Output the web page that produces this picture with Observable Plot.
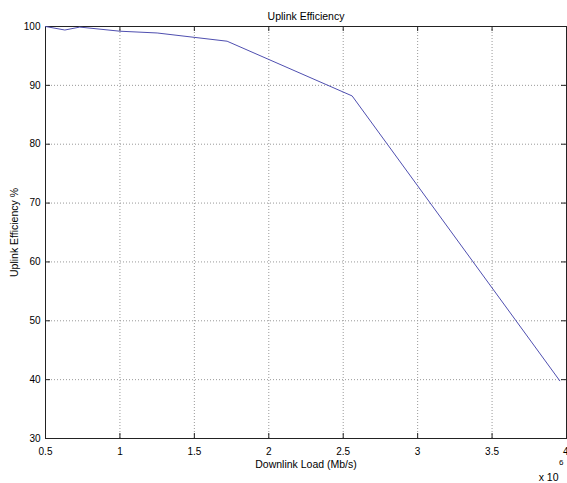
<!DOCTYPE html>
<html>
<head>
<meta charset="utf-8">
<script src="https://cdn.jsdelivr.net/npm/d3@7"></script>
<script src="https://cdn.jsdelivr.net/npm/@observablehq/plot@0.6"></script>
<style>
  html, body { margin: 0; padding: 0; background: #fff; }
  #chart svg { display: block; }
</style>
</head>
<body>
<div id="chart"></div>
<script>
// Downlink load (×10^6 Mb/s) and uplink efficiency (%)
const downlinkLoad = [0.5, 0.63, 0.73, 1.0, 1.25, 1.72, 2.56, 3.955];
const uplinkEff    = [100, 99.4, 99.9, 99.2, 98.9, 97.5, 88.2, 39.8];
const xTicks = [0.5, 1, 1.5, 2, 2.5, 3, 3.5, 4];
const yTicks = [30, 40, 50, 60, 70, 80, 90, 100];
const titleText = "Uplink Efficiency";
const xLabel = "Downlink Load (Mb/s)";
const yLabel = "Uplink Efficiency %";

const data = downlinkLoad.map((x, i) => ({x, y: uplinkEff[i]}));
const xMin = 0.5, xMax = 4, yMin = 30, yMax = 100;
const font = "'Liberation Sans', Arial, Helvetica, sans-serif";
const axisColor = "#222";
const tickLen = 5;

const chart = Plot.plot({
  width: 567,
  height: 483,
  marginLeft: 45,
  marginRight: 1,
  marginTop: 26,
  marginBottom: 45,
  style: {fontFamily: font, fontSize: "10px", background: "#fff", color: "#000"},
  x: {domain: [xMin, xMax], ticks: xTicks, tickFormat: d => String(d)},
  y: {domain: [yMin, yMax], ticks: yTicks},
  marks: [
    // dotted grid
    Plot.ruleX(xTicks.filter(d => d > xMin && d < xMax), {stroke: "#999", strokeDasharray: "1,2", strokeWidth: 1}),
    Plot.ruleY(yTicks.filter(d => d > yMin && d < yMax), {stroke: "#999", strokeDasharray: "1,2", strokeWidth: 1}),
    // axes box
    Plot.frame({stroke: axisColor, strokeWidth: 1}),
    // inward ticks, bottom & top
    Plot.ruleX(xTicks, {y1: yMin, y2: yMin, insetTop: -tickLen, stroke: axisColor}),
    Plot.ruleX(xTicks, {y1: yMax, y2: yMax, insetBottom: -tickLen, stroke: axisColor}),
    // inward ticks, left & right
    Plot.ruleY(yTicks, {x1: xMin, x2: xMin, insetRight: -tickLen, stroke: axisColor}),
    Plot.ruleY(yTicks, {x1: xMax, x2: xMax, insetLeft: -tickLen, stroke: axisColor}),
    // tick labels
    Plot.axisX(xTicks.filter(d => d < xMax), {tickSize: 0, tickPadding: 9, label: null, fontSize: 10, tickFormat: d => String(d)}),
    Plot.axisX([xMax], {tickSize: 0, tickPadding: 9, label: null, fontSize: 10, textAnchor: "end", dx: 2, tickFormat: d => String(d)}),
    Plot.axisY(yTicks, {tickSize: 0, tickPadding: 5, label: null, fontSize: 10}),
    // data line
    Plot.line(data, {x: "x", y: "y", stroke: "#4f4fb0", strokeWidth: 1}),
    // title and labels
    Plot.text([titleText], {frameAnchor: "top", dy: -14, fontSize: 10.5, fill: "#000"}),
    Plot.text([xLabel], {frameAnchor: "bottom", dy: 29, fontSize: 10.5, fill: "#000"}),
    Plot.text([yLabel], {frameAnchor: "left", dx: -31, rotate: -90, textAnchor: "middle", fontSize: 10.5, fill: "#000"}),
    Plot.text(["x 10"], {frameAnchor: "bottom-right", dx: -8, dy: 42, textAnchor: "end", fontSize: 10.5, fill: "#000"}),
    Plot.text(["6"], {frameAnchor: "bottom-right", dx: -3, dy: 26, textAnchor: "end", fontSize: 8, fill: "#000"})
  ]
});
document.getElementById("chart").appendChild(chart);
</script>
</body>
</html>
